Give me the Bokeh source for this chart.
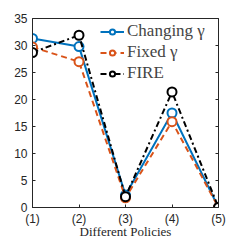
from bokeh.plotting import figure
from bokeh.models import FixedTicker, LinearAxis, Range1d, Legend, LegendItem
from bokeh.embed import file_html
from bokeh.resources import INLINE

policies = [1, 2, 3, 4, 5]
policy_labels = ["(1)", "(2)", "(3)", "(4)", "(5)"]
changing_gamma = [31.3, 29.8, 2.3, 17.5, 0.0]
fixed_gamma = [29.7, 27.0, 1.8, 15.9, 0.0]
fire = [28.7, 31.9, 2.0, 21.4, 0.0]
y_ticks = [0, 5, 10, 15, 20, 25, 30, 35]

p = figure(width=241, height=241, output_backend="svg", toolbar_location=None,
           x_range=Range1d(1, 5), y_range=Range1d(0, 35),
           min_border_left=32, min_border_right=23, min_border_top=18, min_border_bottom=33)
p.background_fill_color = "white"
p.border_fill_color = "white"
p.outline_line_color = "#262626"
p.outline_line_width = 1
p.grid.visible = False

tick_font = "Liberation Sans"
for ax in (p.xaxis[0], p.yaxis[0]):
    ax.major_label_text_font = tick_font
    ax.major_label_text_font_size = "12px"
    ax.major_label_text_color = "#262626"
    ax.axis_line_color = "#262626"
    ax.major_tick_line_color = "#262626"
    ax.major_tick_in = 3
    ax.major_tick_out = 0
    ax.minor_tick_line_color = None
    ax.major_label_standoff = 5

p.xaxis.major_label_standoff = 4
p.xaxis.ticker = FixedTicker(ticks=policies)
p.xaxis.major_label_overrides = {k: v for k, v in zip(policies, policy_labels)}
p.yaxis.ticker = FixedTicker(ticks=y_ticks)
p.xaxis.axis_label = "Different Policies"
p.xaxis.axis_label_text_font = "Liberation Serif"
p.xaxis.axis_label_text_font_style = "normal"
p.xaxis.axis_label_text_font_size = "13px"
p.xaxis.axis_label_text_color = "#262626"
p.xaxis.axis_label_standoff = -5

right = LinearAxis(ticker=FixedTicker(ticks=y_ticks), major_label_text_font_size="1px",
                   major_label_text_color=None,
                   major_tick_in=3, major_tick_out=0, minor_tick_line_color=None,
                   axis_line_color="#262626", major_tick_line_color="#262626",
                   major_label_standoff=0)
p.add_layout(right, "right")

blue = "#0072BD"
orange = "#D95319"
black = "#000000"

series = [
    ("Changing γ", changing_gamma, blue, "solid"),
    ("Fixed γ", fixed_gamma, orange, "6 4"),
    ("FIRE", fire, black, "6 3 2 3"),
]
items = []
for label, ys, col, dash in series:
    l = p.line(policies, ys, line_color=col, line_width=2, line_dash=dash)
    c = p.scatter(policies, ys, size=9, marker="circle", line_color=col, line_width=2,
                  fill_color="white")
    items.append(LegendItem(label=label, renderers=[l, c]))

legend = Legend(items=items, location=(68, 124), border_line_color=None,
                background_fill_alpha=0, label_text_font="Liberation Serif",
                label_text_font_size="17px", glyph_width=24, spacing=1,
                label_standoff=3, padding=0, margin=0, label_height=20, glyph_height=13)
p.add_layout(legend, "center")

open("out.html", "w").write(file_html(p, INLINE))
